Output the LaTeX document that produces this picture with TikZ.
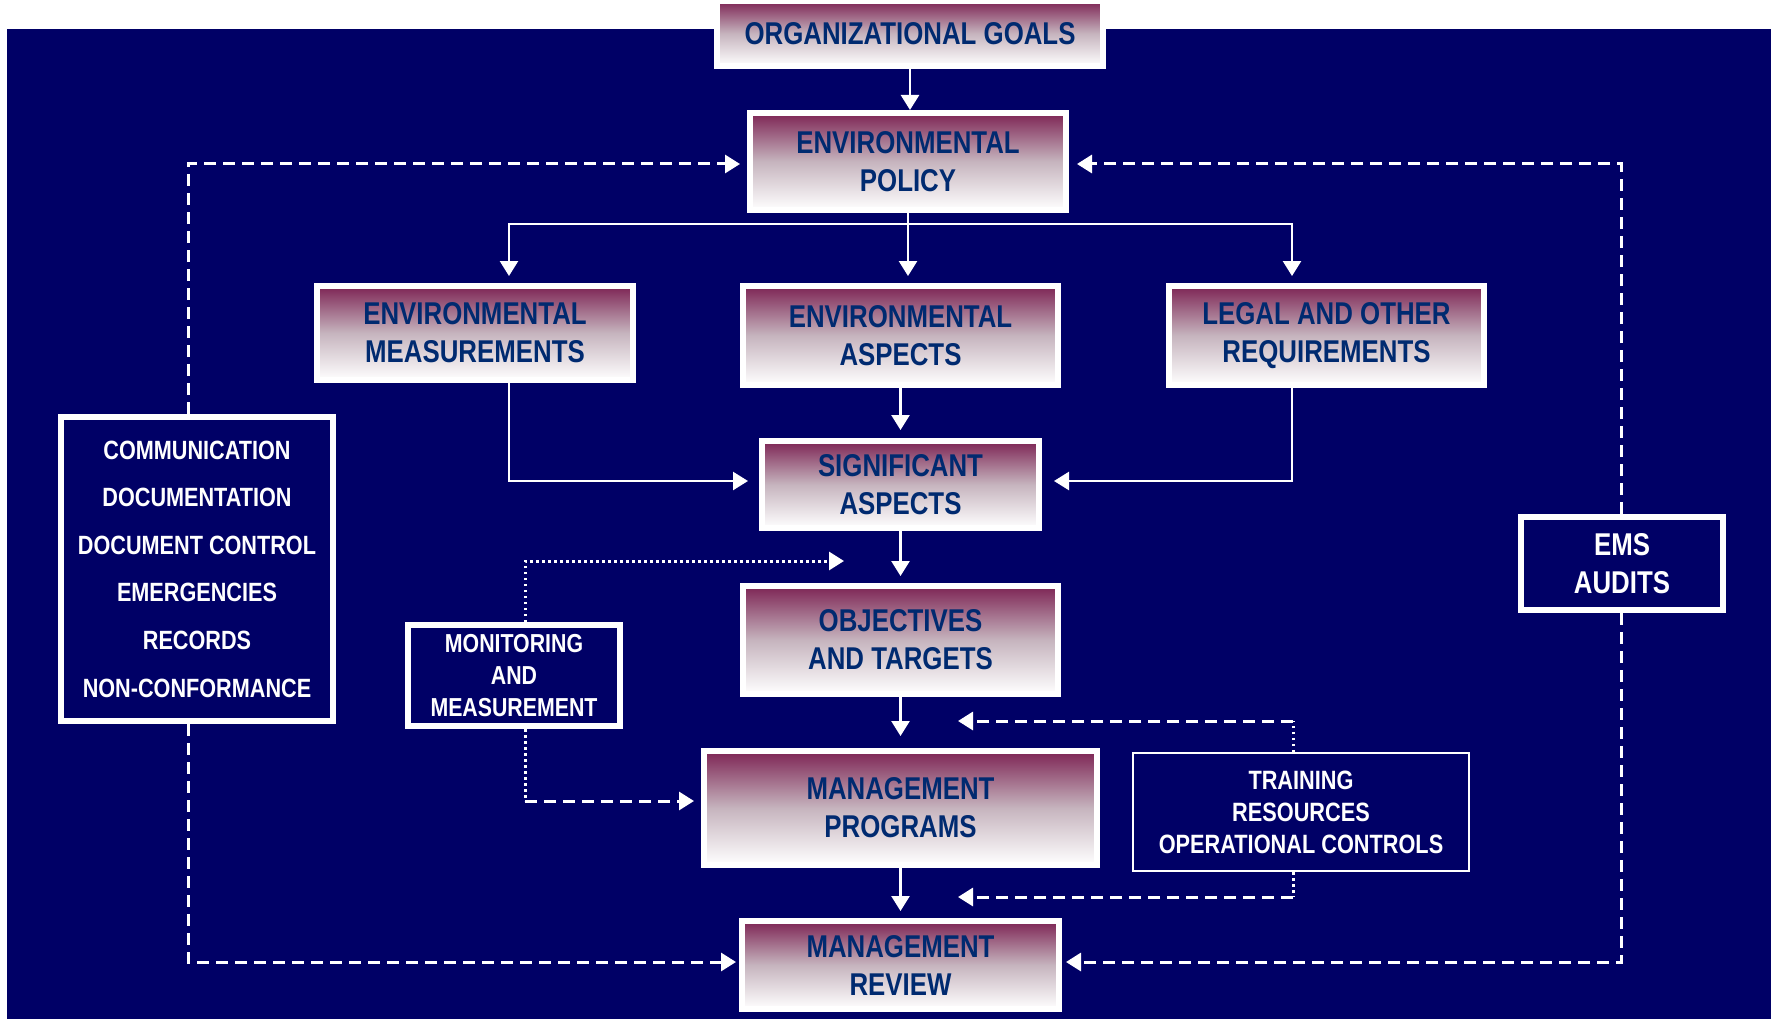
\documentclass[tikz,border=0pt]{standalone}
\usepackage{fontspec}
\setmainfont{Liberation Sans}[FakeStretch=0.82]
\usetikzlibrary{arrows.meta}
\pgfdeclarelayer{background layer}
\pgfsetlayers{background layer,main}
\definecolor{navybg}{RGB}{0,0,102}
\definecolor{boxtop}{RGB}{125,36,84}
\definecolor{boxmid}{RGB}{198,180,190}
\definecolor{boxtext}{RGB}{0,42,112}
\newcommand{\goalnode}[5]{
	\node [goal box, minimum width=#3pt, minimum height=#4pt] (#1) at (#2) {#5}
}

\begin{document}
\begin{tikzpicture}[x=1pt,y=-1pt,
	goal box/.style={draw=white, line width=6pt, top color=boxtop, bottom color=white, middle color=boxmid,
		text=boxtext, align=center, inner sep=0pt, font=\fontsize{31.5}{38}\selectfont\bfseries},
	side box/.style={draw=white, line width=6pt, text=white, align=center, inner sep=0pt},
	wline/.style={draw=white, line width=2.5pt},
	headed/.style={-{Triangle[length=15pt,width=18pt]}},
	dashy/.style={draw=white, line width=3pt, dash pattern=on 12pt off 7pt},
	dotty/.style={draw=white, line width=3pt, dash pattern=on 2.5pt off 3.5pt}]
	\useasboundingbox (0,0) rectangle (1777,1019);

	% main column
	\goalnode {goals}{910,33.5}{386}{65}{ORGANIZATIONAL GOALS};
	\goalnode {policy}{908,161.5}{316}{97}{ENVIRONMENTAL\\POLICY};
	\goalnode {meas}{475,333}{316}{94}{ENVIRONMENTAL\\MEASUREMENTS};
	\goalnode {aspects}{900.5,335.5}{315}{99}{ENVIRONMENTAL\\ASPECTS};
	\goalnode {legal}{1326.5,335.5}{315}{99}{LEGAL AND OTHER\\REQUIREMENTS};
	\goalnode {signif}{900.5,484.5}{277}{87}{SIGNIFICANT\\ASPECTS};
	\goalnode {targets}{900.5,640}{315}{108}{OBJECTIVES\\AND TARGETS};
	\goalnode {programs}{900.5,808}{393}{114}{MANAGEMENT\\PROGRAMS};
	\goalnode {review}{900.5,965}{317}{88}{MANAGEMENT\\REVIEW};

	% side boxes
	\node [side box, minimum width=272pt, minimum height=304pt, font=\fontsize{26.4}{47.6}\selectfont\bfseries] (support) at (197,569)
		{COMMUNICATION\\DOCUMENTATION\\DOCUMENT CONTROL\\EMERGENCIES\\RECORDS\\NON-CONFORMANCE};
	\node [side box, minimum width=212pt, minimum height=101pt, font=\fontsize{26}{32}\selectfont\bfseries] (monitor) at (514,675.5)
		{MONITORING\\AND\\MEASUREMENT};
	\node [side box, line width=2pt, minimum width=336pt, minimum height=118pt, font=\fontsize{26.5}{32}\selectfont\bfseries] (training) at (1301,812)
		{TRAINING\\RESOURCES\\OPERATIONAL CONTROLS};
	\node [side box, minimum width=202pt, minimum height=93pt, font=\fontsize{31.5}{38}\selectfont\bfseries] (audits) at (1622,563.5)
		{EMS\\AUDITS};

	\coordinate (fan) at (908,224);
	\coordinate (monitor in) at (844,561);
	\coordinate (monitor bend) at (525,801);
	\coordinate (train top) at (1293,721);
	\coordinate (train low) at (1293,897);
	\coordinate (train in top) at (958,721);
	\coordinate (train in low) at (958,897);

	% solid connectors
	\draw [wline,headed] (goals.south) -- (goals.south |- policy.north);
	\draw [wline] (policy.south) -- (fan);
	\draw [wline,headed,shorten >=7pt] (fan) -| ([xshift=34pt]meas.north);
	\draw [wline,headed,shorten >=7pt] (fan) -- (fan |- aspects.north);
	\draw [wline,headed,shorten >=7pt] (fan) -| ([xshift=-34.5pt]legal.north);
	\draw [wline,headed,shorten >=11pt] ([xshift=34pt]meas.south) |- ([yshift=3.5pt]signif.west);
	\draw [wline,headed,shorten >=12pt] ([xshift=-34.5pt]legal.south) |- ([yshift=3.5pt]signif.east);
	\draw [wline,headed,shorten >=8pt] (aspects) -- (signif);
	\draw [wline,headed,shorten >=7pt] (signif) -- (targets);
	\draw [wline,headed,shorten >=12pt] (targets) -- (programs);
	\draw [wline,headed,shorten >=7pt] (programs) -- (review);

	% feedback loops
	\draw [dashy,headed,shorten >=7pt] ([xshift=-9pt]support.north) |- ([yshift=-2.5pt]policy.west);
	\draw [dashy,headed,shorten >=3pt] ([xshift=-9pt]support.south) |- ([yshift=3pt]review.west);
	\draw [dashy,headed,shorten >=8pt] ([xshift=-1pt]audits.north) |- ([yshift=-2.5pt]policy.east);
	\draw [dashy,headed,shorten >=4pt] ([xshift=-1pt]audits.south) |- ([yshift=3pt]review.east);

	% monitoring and training
	\draw [dotty,headed] ([xshift=11pt]monitor.north) |- (monitor in);
	\draw [dotty] ([xshift=11pt]monitor.south) -- (monitor bend);
	\draw [dashy,headed,shorten >=7pt] (monitor bend) -- (monitor bend -| programs.west);
	\draw [dotty] ([xshift=-8pt]training.north) -- (train top);
	\draw [dashy,headed] (train top) -- (train in top);
	\draw [dotty] ([xshift=-8pt]training.south) -- (train low);
	\draw [dashy,headed] (train low) -- (train in low);

	% backdrop
	\begin{pgfonlayer}{background layer}
	\fill [white] (0,0) rectangle (1777,1019);
	\fill [navybg] (7,29) rectangle (1771,1019);
	\end{pgfonlayer}

\end{tikzpicture}
\end{document}
